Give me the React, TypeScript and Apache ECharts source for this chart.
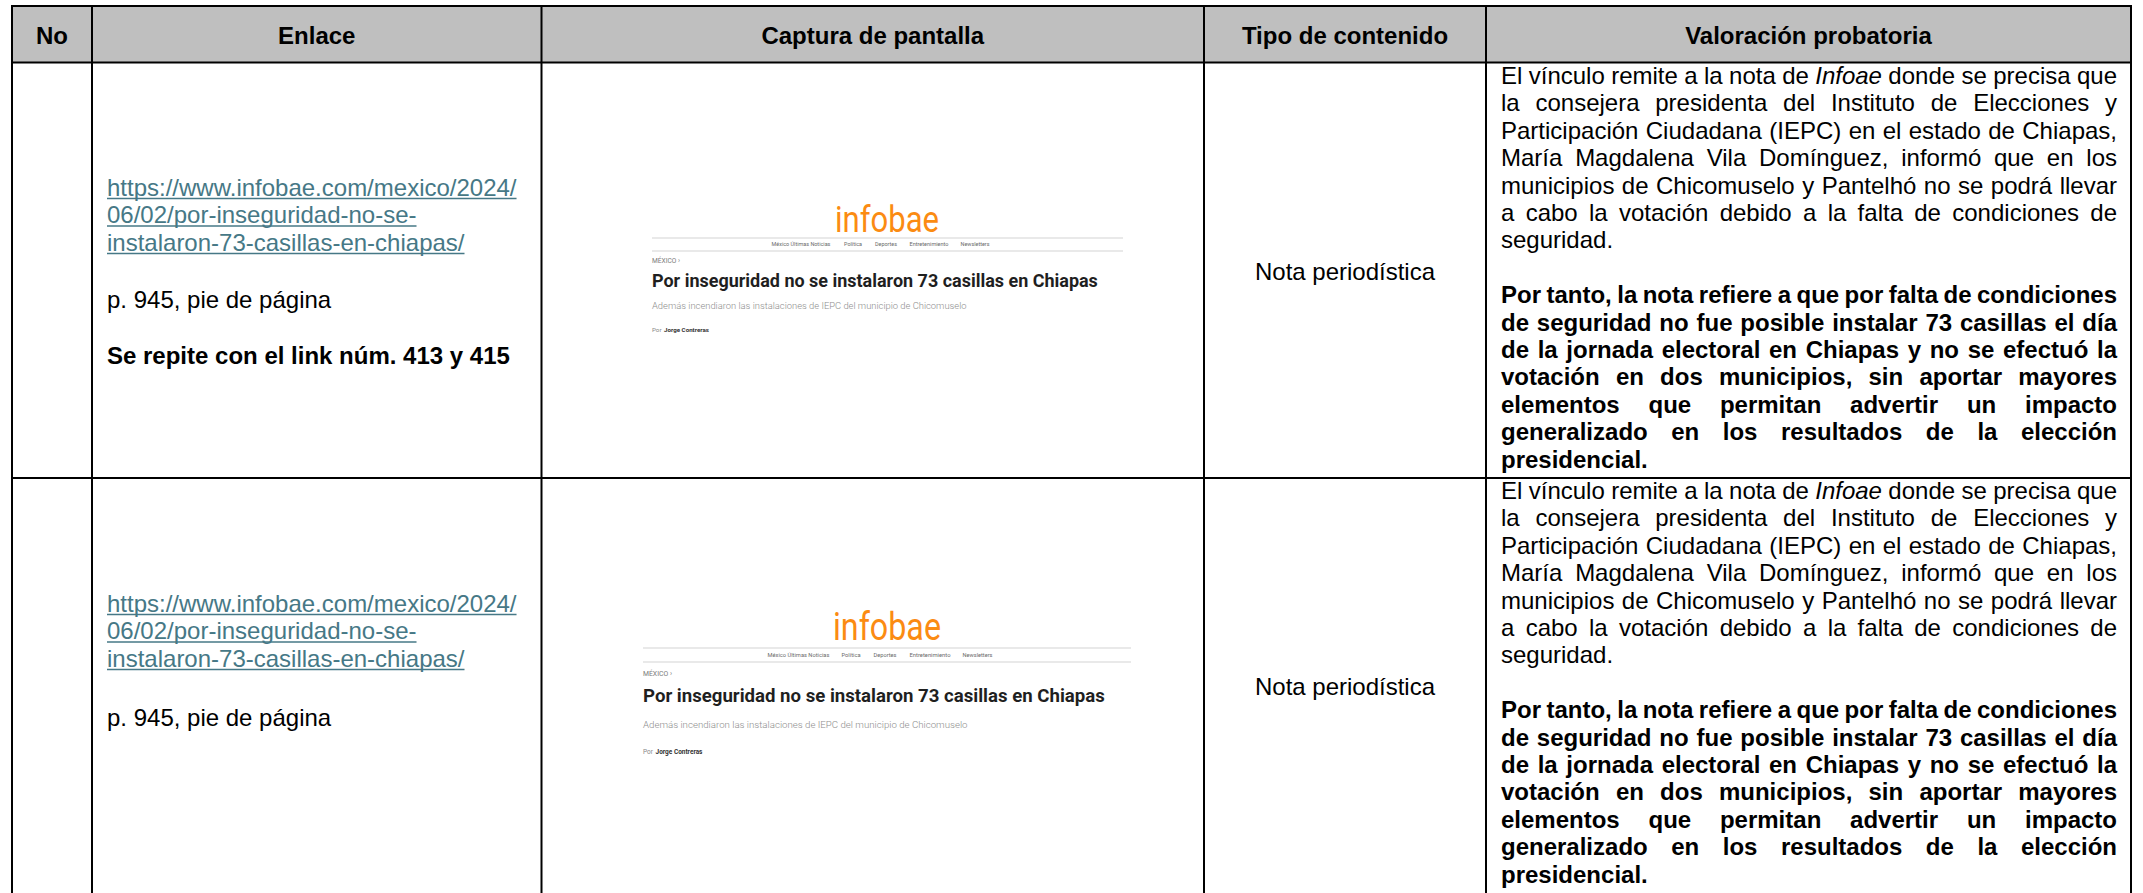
import React, { useEffect, useRef } from "react";
import * as echarts from "echarts";

// ---------------- data ----------------
const HEADERS = ["No", "Enlace", "Captura de pantalla", "Tipo de contenido", "Valoración probatoria"];
const ROW_NUMBERS = ["", ""];
const LINK_LINES = [
  "https://www.infobae.com/mexico/2024/",
  "06/02/por-inseguridad-no-se-",
  "instalaron-73-casillas-en-chiapas/",
];
const PAGE_REFERENCES = ["p. 945, pie de página", "p. 945, pie de página"];
const REPEAT_NOTES = ["Se repite con el link núm. 413 y 415", ""];
const CONTENT_TYPES = ["Nota periodística", "Nota periodística"];
const VALORACION_PARA1 = [
  "El vínculo remite a la nota de Infoae donde se precisa que",
  "la consejera presidenta del Instituto de Elecciones y",
  "Participación Ciudadana (IEPC) en el estado de Chiapas,",
  "María Magdalena Vila Domínguez, informó que en los",
  "municipios de Chicomuselo y Pantelhó no se podrá llevar",
  "a cabo la votación debido a la falta de condiciones de",
  "seguridad.",
];
const VALORACION_PARA2 = [
  "Por tanto, la nota refiere a que por falta de condiciones",
  "de seguridad no fue posible instalar 73 casillas el día",
  "de la jornada electoral en Chiapas y no se efectuó la",
  "votación en dos municipios, sin aportar mayores",
  "elementos que permitan advertir un impacto",
  "generalizado en los resultados de la elección",
  "presidencial.",
];
const ITALIC_WORDS = ["Infoae"];
const SHOT_LOGO = "infobae";
const SHOT_NAV = ["México Últimas Noticias", "Política", "Deportes", "Entretenimiento", "Newsletters"];
const SHOT_SECTION = "MÉXICO ›";
const SHOT_TITLE = "Por inseguridad no se instalaron 73 casillas en Chiapas";
const SHOT_SUBTITLE = "Además incendiaron las instalaciones de IEPC del municipio de Chicomuselo";
const SHOT_BY = "Por";
const SHOT_AUTHOR = "Jorge Contreras";

// ---------------- layout ----------------
const W = 2143;
const H = 893;
const FONT = "'Liberation Sans', Arial, Helvetica, sans-serif";
const SHOT_FONT = "Roboto, 'Liberation Sans', sans-serif";
const FS = 24;
const COLS = [12, 92, 541.5, 1204, 1486, 2131];
const TOP = 6;
const HEAD_BOTTOM = 62.5;
const ROW_LINES = [478];
const LINK_COLOR = "#467886";
const HEADER_FILL = "#bfbfbf";
const VAL_LEFT = 1501;
const VAL_WIDTH = 616;
const LINE_H = 27.4;

const ROW_LAYOUT = [
  { linkY: [187, 214.5, 242], pageY: 299, repeatY: 355, typeY: 271, valY: 75.5 },
  { linkY: [603, 630.5, 658], pageY: 717, repeatY: 0, typeY: 686, valY: 490.5 },
];

const SHOT_LAYOUT = [
  {
    left: 652, right: 1123, logoX: 887, logoY: 219, logoW: 104, rule1: 238, navY: 244,
    navX: [801, 853, 886, 929, 975], navW: [59, 18, 22, 39, 29], rule2: 251, sectionY: 261, sectionW: 28,
    titleY: 280, titleW: 446, subY: 305.5, subW: 315, byY: 330, byW: 45,
  },
  {
    left: 643, right: 1131, logoX: 887, logoY: 627, logoW: 108, rule1: 648, navY: 655,
    navX: [798.5, 851, 885, 930, 977.5], navW: [62, 19, 23, 41, 30], rule2: 662, sectionY: 674, sectionW: 29,
    titleY: 696, titleW: 462, subY: 724, subW: 325, byY: 752, byW: 47,
  },
];

// ---------------- helpers ----------------
let ctx: CanvasRenderingContext2D | null = null;
function measure(text: string, size: number, weight: string | number = "normal", style = "normal", family = FONT) {
  if (!ctx) ctx = document.createElement("canvas").getContext("2d");
  ctx!.font = `${style} ${weight} ${size}px ${family}`;
  return ctx!.measureText(text).width;
}
function fitSize(text: string, target: number, weight: string | number, family: string) {
  return (100 * target) / measure(text, 100, weight, "normal", family);
}

function txt(text: string, x: number, y: number, o: any = {}) {
  return {
    type: "text",
    x,
    y,
    scaleY: o.scaleY || 1,
    silent: true,
    style: {
      text,
      fill: o.fill || "#000",
      fontSize: o.size || FS,
      fontFamily: o.family || FONT,
      fontWeight: o.weight || "normal",
      fontStyle: o.style || "normal",
      textAlign: o.align || "left",
      textVerticalAlign: "middle",
      verticalAlign: "middle",
    },
  };
}
function line(x1: number, y1: number, x2: number, y2: number, stroke = "#000", lineWidth = 2) {
  return { type: "line", silent: true, shape: { x1, y1, x2, y2 }, style: { stroke, lineWidth } };
}

function paragraph(lines: string[], y0: number, weight: string) {
  const els: any[] = [];
  lines.forEach((ln, i) => {
    const y = y0 + i * LINE_H;
    const last = i === lines.length - 1;
    if (last) {
      els.push(txt(ln, VAL_LEFT, y, { weight }));
      return;
    }
    const words = ln.split(" ");
    const widths = words.map((w) => measure(w, FS, weight, ITALIC_WORDS.includes(w) ? "italic" : "normal"));
    const sum = widths.reduce((a, b) => a + b, 0);
    const gap = (VAL_WIDTH - sum) / (words.length - 1);
    let x = VAL_LEFT;
    words.forEach((w, k) => {
      els.push(txt(w, x, y, { weight, style: ITALIC_WORDS.includes(w) ? "italic" : "normal" }));
      x += widths[k] + gap;
    });
  });
  return els;
}

function screenshot(L: any) {
  const els: any[] = [];
  const logoSize = fitSize(SHOT_LOGO, L.logoW, 400, SHOT_FONT);
  els.push(txt(SHOT_LOGO, L.logoX, L.logoY, { size: logoSize, family: SHOT_FONT, weight: 400, fill: "#fb8b12", align: "center", scaleY: 1.18 }));
  els.push(line(L.left, L.rule1, L.right, L.rule1, "#e2e2e2", 1.5));
  SHOT_NAV.forEach((n, i) => {
    const s = fitSize(n, L.navW[i], 400, SHOT_FONT);
    els.push(txt(n, L.navX[i], L.navY, { size: s, family: SHOT_FONT, fill: "#6a6a6a", align: "center" }));
  });
  els.push(line(L.left, L.rule2, L.right, L.rule2, "#e2e2e2", 1.5));
  els.push(txt(SHOT_SECTION, L.left, L.sectionY, { size: fitSize(SHOT_SECTION, L.sectionW, 400, SHOT_FONT), family: SHOT_FONT, fill: "#7a7a7a" }));
  els.push(txt(SHOT_TITLE, L.left, L.titleY, { size: fitSize(SHOT_TITLE, L.titleW, 700, SHOT_FONT), family: SHOT_FONT, weight: 700, fill: "#1f1f1f" }));
  els.push(txt(SHOT_SUBTITLE, L.left, L.subY, { size: fitSize(SHOT_SUBTITLE, L.subW, 300, SHOT_FONT), family: SHOT_FONT, weight: 300, fill: "#8e8e8e" }));
  const aSize = fitSize(SHOT_AUTHOR, L.byW, 700, SHOT_FONT);
  els.push(txt(SHOT_BY, L.left, L.byY, { size: aSize, family: SHOT_FONT, fill: "#888" }));
  const byW = measure(SHOT_BY + " ", aSize, 400, "normal", SHOT_FONT);
  els.push(txt(SHOT_AUTHOR, L.left + byW + 1, L.byY, { size: aSize, family: SHOT_FONT, weight: 700, fill: "#333" }));
  return els;
}

function buildElements() {
  const els: any[] = [];
  // header background
  els.push({
    type: "rect",
    silent: true,
    shape: { x: COLS[0], y: TOP, width: COLS[5] - COLS[0], height: HEAD_BOTTOM - TOP },
    style: { fill: HEADER_FILL },
  });
  // header texts
  HEADERS.forEach((h, i) => {
    els.push(txt(h, (COLS[i] + COLS[i + 1]) / 2, 35, { weight: "bold", align: "center" }));
  });

  // rows
  ROW_LAYOUT.forEach((R, r) => {
    if (ROW_NUMBERS[r]) els.push(txt(ROW_NUMBERS[r], (COLS[0] + COLS[1]) / 2, R.typeY, { align: "center" }));
    LINK_LINES.forEach((ln, i) => {
      els.push(txt(ln, 107, R.linkY[i], { fill: LINK_COLOR }));
      const w = measure(ln, FS);
      els.push(line(107, R.linkY[i] + 11.5, 107 + w, R.linkY[i] + 11.5, LINK_COLOR, 1.6));
    });
    els.push(txt(PAGE_REFERENCES[r], 107, R.pageY));
    if (REPEAT_NOTES[r]) els.push(txt(REPEAT_NOTES[r], 107, R.repeatY, { weight: "bold" }));
    els.push(txt(CONTENT_TYPES[r], (COLS[3] + COLS[4]) / 2, R.typeY, { align: "center" }));
    els.push(...paragraph(VALORACION_PARA1, R.valY, "normal"));
    els.push(...paragraph(VALORACION_PARA2, R.valY + (VALORACION_PARA1.length + 1) * LINE_H, "bold"));
    els.push(...screenshot(SHOT_LAYOUT[r]));
  });

  // grid lines
  els.push(line(COLS[0] - 1, TOP, COLS[5] + 1, TOP));
  els.push(line(COLS[0] - 1, HEAD_BOTTOM, COLS[5] + 1, HEAD_BOTTOM));
  ROW_LINES.forEach((y) => els.push(line(COLS[0] - 1, y, COLS[5] + 1, y)));
  COLS.forEach((x) => els.push(line(x, TOP, x, H + 5)));
  return els;
}

export default function App() {
  const ref = useRef<HTMLDivElement>(null);
  useEffect(() => {
    if (!ref.current) return;
    const chart = echarts.init(ref.current, null, { renderer: "svg", width: W, height: H });
    chart.setOption({ animation: false, graphic: buildElements() });
    return () => chart.dispose();
  }, []);
  return (
    <div
      ref={ref}
      style={{ position: "fixed", left: 0, top: 0, width: W, height: H, background: "#fff" }}
    />
  );
}
